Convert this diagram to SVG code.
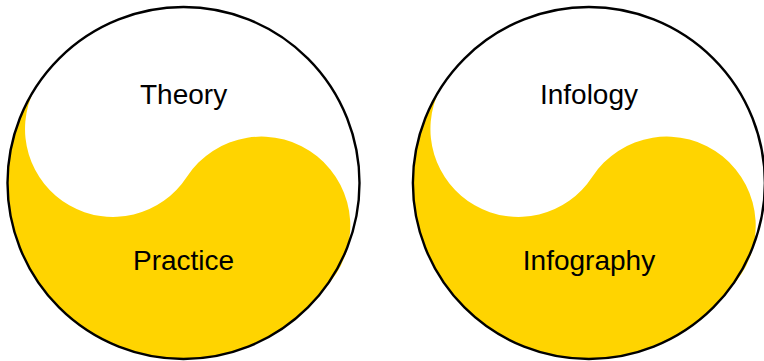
<svg xmlns="http://www.w3.org/2000/svg" width="764" height="361" viewBox="0 0 764 361">
  <style>
    .yin { fill: #FFD400; stroke: none; }
    .ring { fill: none; stroke: #000000; stroke-width: 2.4; }
    .lbl { font-family: "Liberation Sans", Arial, Helvetica, sans-serif; font-size: 28px; fill: #000000; text-anchor: middle; }
  </style>
  <defs>
    <path id="yinShape" class="yin" d="M 34.26 89.72 A 176 176 0 0 0 324.68 288.1 A 89 89 0 1 0 186.75 177.01 A 88 88 0 0 1 34.26 89.72 Z"/>
  </defs>
  <rect width="764" height="361" fill="#ffffff"/>
  <g id="theory-practice">
    <use href="#yinShape"/>
    <circle class="ring" cx="183.5" cy="183" r="176"/>
    <text class="lbl" x="183.6" y="103.5">Theory</text>
    <text class="lbl" x="183.6" y="270">Practice</text>
  </g>
  <g id="infology-infography" transform="translate(405.4,0)">
    <use href="#yinShape"/>
    <circle class="ring" cx="183.5" cy="183" r="176"/>
    <text class="lbl" x="183.6" y="103.5">Infology</text>
    <text class="lbl" x="183.6" y="270">Infography</text>
  </g>
  <g id="connectors"/>
</svg>
